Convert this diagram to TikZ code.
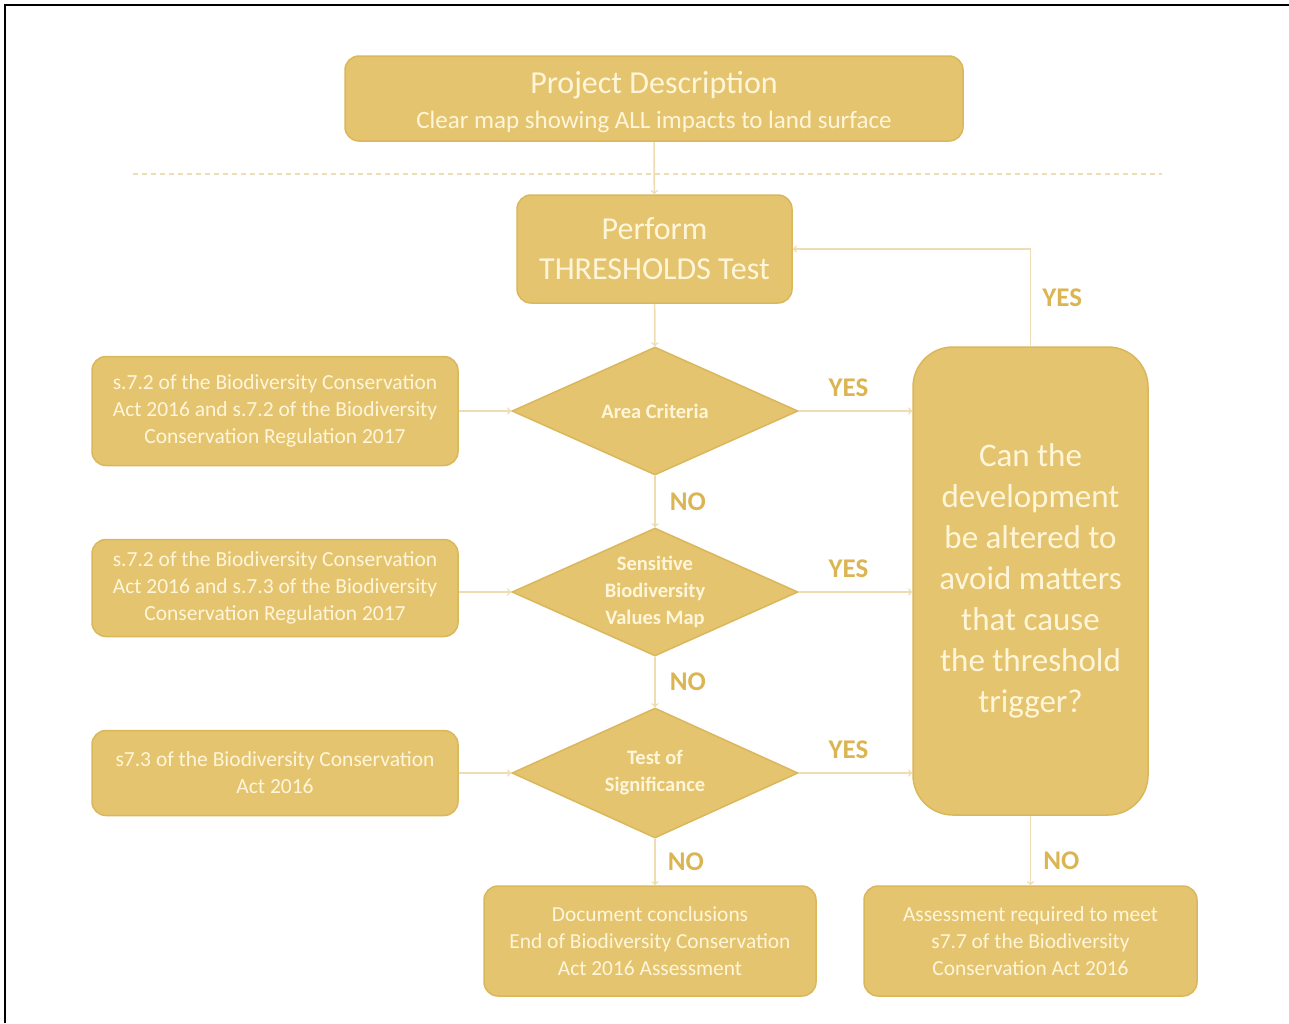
\documentclass[tikz,border=0pt]{standalone}
\usepackage{fontspec}
\setmainfont{Carlito}
\usetikzlibrary{shapes.geometric,positioning}

\definecolor{boxfill}{RGB}{229,196,111}
\definecolor{boxline}{RGB}{219,183,92}
\definecolor{boxtext}{RGB}{255,246,218}
\definecolor{flowline}{RGB}{238,221,178}
\definecolor{ynlabel}{RGB}{218,181,82}

\begin{document}
\begin{tikzpicture}[x=1pt,y=1pt,yscale=-1,
		box/.style={draw=boxline, line width=1.5pt, fill=boxfill, rounded corners=14pt, text=boxtext, align=center, inner sep=0pt},
		critbox/.style={box, minimum width=366pt, font=\fontsize{21.5}{27}\selectfont},
		endbox/.style={box, minimum width=332pt, minimum height=110pt, font=\fontsize{21.4}{27}\selectfont},
		decision/.style={diamond, draw=boxline, fill=boxfill, line width=1.5pt, inner sep=0pt, minimum width=286pt, minimum height=128pt},
		declabel/.style={text=boxtext, align=center, font=\bfseries\fontsize{20.5}{27}\selectfont},
		flow/.style={draw=flowline, line width=1.6pt, ->},
		yn/.style={text=ynlabel, font=\bfseries\fontsize{27}{27}\selectfont, inner sep=0pt}]
	\useasboundingbox (0,0) rectangle (1289,1023);

	% frame
	\draw [line width=2.5pt] (5,1023) -- (5,5) -- (1289,5) ;

	% Project description
	\node [box, minimum width=618pt, minimum height=85pt, font=\fontsize{25}{35}\selectfont] (proj) at (654,98.5)
		{{\rule{0pt}{30pt}\fontsize{32}{35}\selectfont Project Description}\\[0pt]Clear map showing ALL impacts to land surface};
	% separator
	\draw [draw=flowline, line width=1.2pt, dash pattern=on 5pt off 4pt] (133,174) -- (1162,174) ;

	% Thresholds test
	\node [box, minimum width=275pt, minimum height=108pt, font=\fontsize{32}{40}\selectfont] (perform) at (654.5,249)
		{Perform\\THRESHOLDS Test};

	% decisions
	\node [decision, label={[declabel]center:Area Criteria}] (area) at (655,411) {};
	\node [decision, label={[declabel]center:Sensitive\\Biodiversity\\Values Map}] (sens) at (655,592) {};
	\node [decision, minimum height=130pt, label={[declabel]center:Test of\\Significance}] (signif) at (655,773) {};

	% legislation boxes
	\node [critbox, minimum height=109pt] (crit1) at (275,411)
		{s.7.2 of the Biodiversity Conservation\\Act 2016 and s.7.2 of the Biodiversity\\Conservation Regulation 2017};
	\node [critbox, minimum height=97pt] (crit2) at (275,588)
		{s.7.2 of the Biodiversity Conservation\\Act 2016 and s.7.3 of the Biodiversity\\Conservation Regulation 2017};
	\node [critbox, minimum height=85pt] (crit3) at (275,773)
		{s7.3 of the Biodiversity Conservation\\Act 2016};

	% avoid box
	\node [box, rounded corners=40pt, minimum width=235pt, minimum height=468pt, font=\fontsize{33}{41}\selectfont] (avoid) at (1030.5,581)
		{Can the\\development\\be altered to\\avoid matters\\that cause\\the threshold\\trigger?};

	% outcomes
	\node [endbox] (concl) at (650,941)
		{Document conclusions\\End of Biodiversity Conservation\\Act 2016 Assessment};
	\node [endbox, minimum width=333pt] (assess) at (1030.5,941)
		{Assessment required to meet\\s7.7 of the Biodiversity\\Conservation Act 2016};

	% connectors
	\draw [flow] (proj) -- (perform) ;
	\draw [flow] (perform) -- (area) ;
	\draw [flow] (area) -- node [yn, right=14pt] {NO} (sens) ;
	\draw [flow] (sens) -- node [yn, right=14pt] {NO} (signif) ;
	\draw [flow] (signif.south) -- node [yn, right=12pt] {NO} (signif.south |- concl.north) ;
	\draw [flow] (avoid) -- node [yn, pos=0.65, right=12pt] {NO} (assess) ;
	\draw [flow] (crit1) -- (area) ;
	\draw [flow] (crit2.east |- sens) -- (sens) ;
	\draw [flow] (crit3) -- (signif) ;
	\draw [flow] (area) -- node [yn, above=14pt, xshift=-7pt] {YES} (avoid.west |- area) ;
	\draw [flow] (sens) -- node [yn, above=14pt, xshift=-7pt] {YES} (avoid.west |- sens) ;
	\draw [flow] (signif) -- node [yn, above=14pt, xshift=-7pt] {YES} (avoid.west |- signif) ;
	\draw [flow] (avoid.north) |- node [yn, pos=0.25, right=11pt] {YES} (perform.east) ;
\end{tikzpicture}
\end{document}
